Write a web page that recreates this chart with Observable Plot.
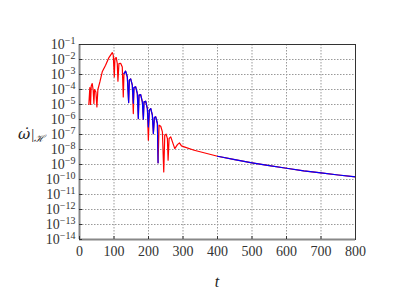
<!DOCTYPE html>
<html>
<head>
<meta charset="utf-8">
<script src="https://cdn.jsdelivr.net/npm/d3@7"></script>
<script src="https://cdn.jsdelivr.net/npm/@observablehq/plot@0.6"></script>
<style>
  html, body { margin: 0; padding: 0; background: #fff; }
  svg text { font-family: "Liberation Serif", "DejaVu Serif", serif; }
  svg text tspan.acc { font-family: "DejaVu Serif", serif; }
</style>
</head>
<body>
<div id="chart"></div>
<script>
// Red curve (full run): time t and value
const redT = [27.1, 30.0, 32.0, 33.9, 36.8, 39.7, 41.7, 43.6, 47.5, 50.4, 53.3, 59.1, 65.9, 75.6, 85.3, 95.0, 97.9, 100.8, 102.7, 106.6, 109.5, 111.4, 114.3, 119.2, 124.0, 126.9, 128.9, 133.7, 138.6, 142.4, 144.4, 148.3, 153.1, 156.0, 157.9, 162.8, 167.6, 170.5, 172.5, 177.3, 182.2, 185.1, 187.0, 191.9, 196.7, 199.6, 202.5, 206.4, 211.2, 214.1, 217.1, 220.9, 225.8, 227.7, 230.6, 235.5, 240.3, 244.2, 247.1, 251.0, 254.8, 256.8, 259.7, 264.5, 269.4, 276.2, 283.9, 289.7, 295.5, 303.3, 332.4];
const redV = [1.0e-5, 1.35e-4, 1.0e-5, 1.66e-4, 2.51e-4, 8.9e-5, 1.15e-5, 1.0e-4, 6.9e-5, 6.9e-6, 1.0e-4, 3.2e-4, 1.51e-3, 4.17e-3, 1.35e-2, 2.88e-2, 1.95e-2, 6.9e-4, 1.15e-2, 1.35e-2, 5.4e-3, 3.55e-4, 5.4e-3, 5.6e-3, 3.2e-3, 3.2e-5, 1.15e-3, 1.66e-3, 6.9e-4, 1.35e-5, 4.2e-4, 5.1e-4, 1.95e-4, 2.5e-6, 1.35e-4, 1.51e-4, 5.4e-5, 1.15e-6, 4.2e-5, 4.6e-5, 1.51e-5, 1.05e-6, 1.51e-5, 1.66e-5, 5.4e-6, 4.2e-8, 4.2e-6, 5.4e-6, 1.95e-6, 1.15e-7, 1.35e-6, 1.51e-6, 5.4e-7, 1.3e-9, 4.2e-7, 3.55e-7, 1.51e-7, 3.2e-10, 8.9e-8, 1.05e-7, 5.4e-8, 1.95e-9, 5.4e-8, 6.9e-8, 3.2e-8, 1.15e-8, 2.1e-8, 2.75e-8, 1.74e-8, 1.51e-8, 8.9e-9];

// Blue curve, first stretch
const blue1T = [128.9, 133.7, 138.6, 142.4, 144.4, 148.3, 153.1, 156.0, 157.9, 162.8, 167.6, 170.5, 172.5, 177.3, 182.2, 185.1, 187.0, 191.9, 196.7, 199.6, 202.5, 206.4, 211.2, 214.1, 217.1, 220.9, 225.8, 227.7];
const blue1V = [1.15e-3, 1.66e-3, 6.9e-4, 1.35e-5, 4.2e-4, 5.1e-4, 1.95e-4, 1.2e-5, 1.35e-4, 1.51e-4, 5.4e-5, 1.15e-6, 4.2e-5, 4.6e-5, 1.51e-5, 1.05e-6, 1.51e-5, 1.66e-5, 5.4e-6, 3.2e-7, 4.2e-6, 5.4e-6, 1.95e-6, 1.15e-7, 1.35e-6, 1.51e-6, 5.4e-7, 1.3e-9];
// Late tail (red underneath, blue on top)
const tailT = [400.2, 450, 500, 550, 600, 650, 700, 750, 800];
const tailV = [3.55e-9, 2.1e-9, 1.3e-9, 8.5e-10, 5.6e-10, 3.8e-10, 2.75e-10, 2.0e-10, 1.48e-10];

const xTicks = [0, 100, 200, 300, 400, 500, 600, 700, 800];
const yTicks = [1e-14, 1e-13, 1e-12, 1e-11, 1e-10, 1e-9, 1e-8, 1e-7, 1e-6, 1e-5, 1e-4, 1e-3, 1e-2, 1e-1];

const red = [
  ...redT.map((t, i) => ({t, v: redV[i]})),
  ...tailT.map((t, i) => ({t, v: tailV[i]}))
];
const blue = [
  ...blue1T.map((t, i) => ({t, v: blue1V[i], seg: 1})),
  ...tailT.map((t, i) => ({t, v: tailV[i], seg: 2}))
];

const chart = Plot.plot({
  width: 395,
  height: 296,
  marginLeft: 79,
  marginRight: 40,
  marginTop: 44,
  marginBottom: 57,
  style: {fontFamily: "Liberation Serif, DejaVu Serif, serif", fontSize: "13px", color: "#333", background: "#fff"},
  x: {domain: [0, 800]},
  y: {type: "log", domain: [1e-14, 1e-1]},
  marks: [
    Plot.gridX(xTicks, {stroke: "#999", strokeOpacity: 1, strokeDasharray: "1.5,1.5"}),
    Plot.gridY(yTicks, {stroke: "#999", strokeOpacity: 1, strokeDasharray: "1.5,1.5"}),
    Plot.line(red, {x: "t", y: "v", stroke: "#ff0000", strokeWidth: 1.2}),
    Plot.line(blue, {x: "t", y: "v", z: "seg", stroke: "#0000ff", strokeWidth: 1.2}),
    Plot.frame({stroke: "#333", strokeWidth: 1}),
    Plot.ruleX([0], {stroke: "#888", strokeWidth: 2}),
    Plot.ruleY([1e-14], {stroke: "#888", strokeWidth: 2}),
    Plot.axisX(xTicks, {tickSize: -3, tickPadding: 10, stroke: "#333", fontSize: 14, label: null}),
    Plot.axisY(yTicks, {tickSize: -3, tickPadding: 7, stroke: "#333", fontSize: 14, label: null,
      tickFormat: d => String(Math.round(Math.log10(d)))})
  ]
});

const svg = d3.select(chart);
svg.selectAll('g[aria-label="y-axis tick label"] text').each(function() {
  const e = this.textContent;
  const t = d3.select(this);
  t.text("");
  t.append("tspan").text("10");
  t.append("tspan").attr("dy", "-0.5em").attr("font-size", "10px").text(e.replace("-", "\u2212"));
});

// axis titles
svg.append("text")
  .attr("x", 217).attr("y", 287)
  .attr("text-anchor", "middle")
  .attr("font-style", "italic")
  .attr("font-size", "16px")
  .attr("fill", "#222")
  .text("t");

const yl = svg.append("text")
  .attr("x", 18).attr("y", 139)
  .attr("text-anchor", "start")
  .attr("font-size", "15px")
  .attr("fill", "#222");
yl.append("tspan").attr("class", "acc").attr("font-style", "italic").text("\u03C9\u0307");
yl.append("tspan").attr("dx", "1").text("|");
yl.append("tspan").attr("font-style", "italic").attr("font-size", "10px").attr("dy", "3").text("\u210B");

document.getElementById("chart").appendChild(chart);
</script>
</body>
</html>
